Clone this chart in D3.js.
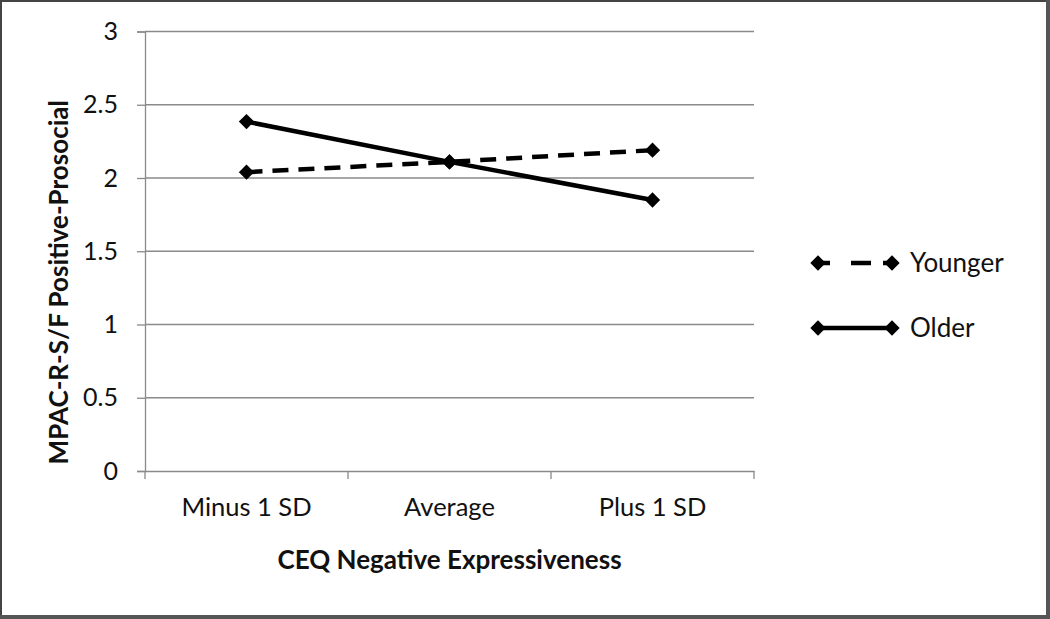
<!DOCTYPE html>
<html><head><meta charset="utf-8">
<script src="https://cdn.jsdelivr.net/npm/d3@7"></script>
<style>body{margin:0;background:#fff}svg{display:block}</style>
</head><body>
<svg id="c" width="1050" height="619"></svg>
<script>
const categories = ["Minus 1 SD", "Average", "Plus 1 SD"];
const younger = [2.04, 2.11, 2.19];
const older = [2.385, 2.11, 1.85];
const yTicks = [0, 0.5, 1, 1.5, 2, 2.5, 3];
const seriesNames = ["Younger", "Older"];
const xTitle = "CEQ Negative Expressiveness";
const yTitle = "MPAC-R-S/F Positive-Prosocial";

(function () {
const svg = d3.select("#c");
const W = 1050, H = 619;
const font = "Lato, 'Open Sans', sans-serif";
svg.append("rect").attr("width", W).attr("height", H).attr("fill", "#fff");

const pLeft = 145, pRight = 754, pTop = 31.5, pBottom = 471;
const x = d3.scaleBand().domain(categories).range([pLeft, pRight]);
const y = d3.scaleLinear().domain([0, 3]).range([pBottom, pTop]);

// gridlines
svg.append("g").selectAll("line").data(yTicks.filter(d => d > 0)).join("line")
  .attr("x1", pLeft).attr("x2", pRight).attr("y1", d => y(d)).attr("y2", d => y(d))
  .attr("stroke", "#8a8a8a").attr("stroke-width", 1.3);

// y axis
const ya = svg.append("g").attr("transform", `translate(${pLeft},0)`)
  .call(d3.axisLeft(y).tickValues(yTicks).tickSize(8).tickPadding(19).tickFormat(d3.format("")));
ya.select(".domain").attr("stroke", "#8a8a8a").attr("stroke-width", 1.3);
ya.selectAll(".tick line").attr("stroke", "#8a8a8a").attr("stroke-width", 1.3);
ya.selectAll("text").attr("font-family", font).attr("font-size", 25).attr("fill", "#111");

// x axis
const xa = svg.append("g").attr("transform", `translate(0,${pBottom})`)
  .call(d3.axisBottom(x).tickSize(0).tickPadding(27));
xa.select(".domain").attr("stroke", "#8a8a8a").attr("stroke-width", 1.3);
xa.selectAll("text").attr("font-family", font).attr("font-size", 25.5).attr("fill", "#111");
// band boundary ticks
const bounds = categories.map(c => x(c)).concat([x(categories[categories.length-1]) + x.bandwidth()]);
svg.append("g").selectAll("line").data(bounds).join("line")
  .attr("x1", d => d).attr("x2", d => d).attr("y1", pBottom).attr("y2", pBottom + 8)
  .attr("stroke", "#8a8a8a").attr("stroke-width", 1.3);

// titles
svg.append("text").attr("x", (pLeft + pRight) / 2).attr("y", 569).attr("text-anchor", "middle")
  .attr("font-family", font).attr("font-weight", "bold").attr("font-size", 26).attr("fill", "#111").text(xTitle);
svg.append("text").attr("transform", `translate(68,${(pTop + pBottom) / 2 + 31}) rotate(-90)`).attr("text-anchor", "middle")
  .attr("font-family", font).attr("font-weight", "bold").attr("font-size", 26).attr("fill", "#111").text(yTitle);

const cx = c => x(c) + x.bandwidth() / 2;
const diamond = d3.symbol().type(d3.symbolDiamond2).size(150);
const line = d3.line().x((d, i) => cx(categories[i])).y(d => y(d));

const series = [
  { name: seriesNames[0], values: younger, dash: "16,10" },
  { name: seriesNames[1], values: older, dash: null }
];
series.forEach(s => {
  svg.append("path").datum(s.values).attr("d", line).attr("fill", "none")
    .attr("stroke", "#000").attr("stroke-width", 4.5).attr("stroke-dasharray", s.dash);
  svg.append("g").selectAll("path").data(s.values).join("path")
    .attr("transform", (d, i) => `translate(${cx(categories[i])},${y(d)})`)
    .attr("d", diamond).attr("fill", "#000");
});

// legend
const legY = [263, 328];
series.forEach((s, i) => {
  const g = svg.append("g");
  g.append("line").attr("x1", 818).attr("x2", 892).attr("y1", legY[i]).attr("y2", legY[i])
    .attr("stroke", "#000").attr("stroke-width", 4.5).attr("stroke-dasharray", s.dash ? "12,21,20" : null);
  [818, 892].forEach(px => g.append("path").attr("transform", `translate(${px},${legY[i]})`).attr("d", diamond).attr("fill", "#000"));
  g.append("text").attr("x", 910).attr("y", legY[i]).attr("dy", "0.35em")
    .attr("font-family", font).attr("font-size", 26).attr("fill", "#111").text(s.name);
});

// frame
svg.append("rect").attr("x", 1).attr("y", 1).attr("width", W - 4).attr("height", H - 4)
  .attr("fill", "none").attr("stroke", "#444").attr("stroke-width", 2);
svg.append("line").attr("x1", W - 2).attr("x2", W - 2).attr("y1", 0).attr("y2", H).attr("stroke", "#555").attr("stroke-width", 4);
svg.append("line").attr("x1", 0).attr("x2", W).attr("y1", H - 2).attr("y2", H - 2).attr("stroke", "#555").attr("stroke-width", 4);
})();
</script>
</body></html>
